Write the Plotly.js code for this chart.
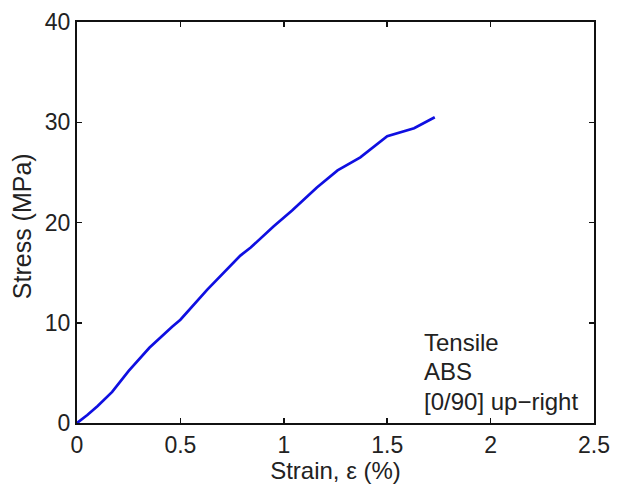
<!DOCTYPE html>
<html>
<head>
<meta charset="utf-8">
<script src="https://cdn.plot.ly/plotly-3.0.1.min.js"></script>
<style>html,body{margin:0;padding:0;background:#fff;}#chart{width:617px;height:484px;}</style>
</head>
<body>
<div id="chart"></div>
<script>
const strain = [0, 0.05, 0.10, 0.17, 0.25, 0.35, 0.46, 0.50, 0.63, 0.79, 0.84, 0.95, 1.04, 1.16, 1.26, 1.37, 1.50, 1.55, 1.63, 1.73];
const stress = [0, 0.8, 1.7, 3.1, 5.2, 7.5, 9.6, 10.3, 13.3, 16.7, 17.5, 19.6, 21.2, 23.5, 25.2, 26.5, 28.6, 28.9, 29.4, 30.5];
const xTicks = [0, 0.5, 1, 1.5, 2, 2.5];
const xTickText = ['0', '0.5', '1', '1.5', '2', '2.5'];
const yTicks = [0, 10, 20, 30, 40];
const yTickText = ['0', '10', '20', '30', '40'];
const noteLines = ['Tensile', 'ABS', '[0/90] up\u2212right'];
const xTitle = 'Strain, \u03b5 (%)';
const yTitle = 'Stress (MPa)';

const font = 'Liberation Sans, Arial, Helvetica, sans-serif';

const trace = {
  x: strain, y: stress, type: 'scatter', mode: 'lines',
  line: {color: 'rgb(15,15,225)', width: 2.7},
  hoverinfo: 'skip'
};

const noteY = [0.200, 0.128, 0.053];
const annotations = noteLines.map((t, i) => ({
  text: t, xref: 'paper', yref: 'paper', x: 0.667, y: noteY[i],
  xanchor: 'left', yanchor: 'middle', showarrow: false,
  font: {family: font, size: 24, color: '#222'}
}));
annotations.push({
  text: yTitle, xref: 'paper', yref: 'paper', x: -0.107, y: 0.49,
  xanchor: 'center', yanchor: 'middle', textangle: -90, showarrow: false,
  font: {family: font, size: 25, color: '#222'}
});

const axisCommon = {
  showgrid: false, zeroline: false, showline: true, linecolor: '#111', linewidth: 2,
  mirror: 'allticks', ticks: 'inside', ticklen: 5, tickwidth: 1.5, tickcolor: '#111',
  tickfont: {family: font, size: 23, color: '#222'}, tickmode: 'array'
};

const layout = {
  width: 617, height: 484,
  margin: {l: 77, r: 23, t: 22, b: 61},
  paper_bgcolor: '#fff', plot_bgcolor: '#fff',
  showlegend: false,
  xaxis: Object.assign({}, axisCommon, {
    range: [0, 2.5], tickvals: xTicks, ticktext: xTickText, automargin: false,
    title: {text: xTitle, font: {family: font, size: 24, color: '#222'}, standoff: 0}
  }),
  yaxis: Object.assign({}, axisCommon, {
    range: [0, 40], tickvals: yTicks, ticktext: yTickText, automargin: false
  }),
  annotations: annotations
};

Plotly.newPlot('chart', [trace], layout, {displayModeBar: false, staticPlot: true});
</script>
</body>
</html>
